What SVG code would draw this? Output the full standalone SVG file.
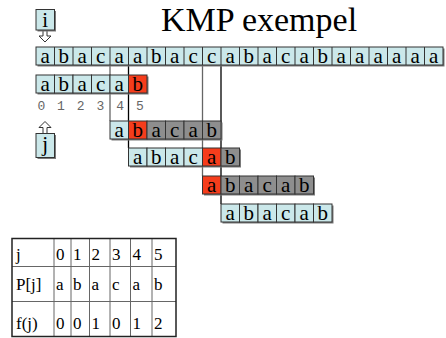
<svg xmlns="http://www.w3.org/2000/svg" width="446" height="338" viewBox="0 0 446 338">
<style>
.c{stroke:#333;stroke-width:1}
.b{fill:#cbe8ea}.r{fill:#f53d1c}.g{fill:#8e8e8e}
.sh{fill:#7a7a7a}
.t{font-family:"Liberation Serif","Times New Roman",serif;font-size:21px;fill:#000;text-anchor:middle}
.idx{font-family:"Liberation Mono","Courier New",monospace;font-size:13px;fill:#666;text-anchor:middle}
.tb{font-family:"Liberation Serif","Times New Roman",serif;font-size:17px;fill:#000}
.arr{fill:#fff;stroke:#333;stroke-width:1}
</style>
<rect width="446" height="338" fill="#fff"/>
<text x="161" y="31" font-family="'Liberation Serif','Times New Roman',serif" font-size="34">KMP exempel</text>

<g id="connectors">
<line x1="110" y1="65" x2="110" y2="121" stroke="#666" stroke-width="1.3"/>
<line x1="128.5" y1="65" x2="128.5" y2="148" stroke="#000" stroke-width="1.3"/>
<line x1="202.5" y1="65" x2="202.5" y2="176" stroke="#666" stroke-width="1.3"/>
<line x1="221" y1="65" x2="221" y2="204" stroke="#000" stroke-width="1.3"/>
<path class="arr" d="M43,30 v6 h-4 l6,6 l6,-6 h-4 v-6 z"/>
<path class="arr" d="M43,133.5 v-6 h-4 l6,-6 l6,6 h-4 v6 z"/>
</g>

<g id="i-label">
<rect class="sh" x="37.5" y="11" width="18.5" height="20.5"/>
<rect class="c b" x="36" y="9.5" width="18.5" height="20.5"/>
<text class="t" x="45.25" y="27">i</text>
</g>

<g id="j-label">
<rect class="sh" x="37.5" y="135" width="18.5" height="24"/>
<rect class="c b" x="36" y="133.5" width="18.5" height="24"/>
<text class="t" x="45.25" y="151">j</text>
</g>

<g id="text-row">
<rect class="sh" x="37.5" y="48.5" width="407" height="18"/>
<rect class="c b" x="36" y="47" width="407" height="18"/>
<path d="M54.5,47v18M73,47v18M91.5,47v18M110,47v18M128.5,47v18M147,47v18M165.5,47v18M184,47v18M202.5,47v18M221,47v18M239.5,47v18M258,47v18M276.5,47v18M295,47v18M313.5,47v18M332,47v18M350.5,47v18M369,47v18M387.5,47v18M406,47v18M424.5,47v18" stroke="#333" stroke-width="1"/>
<text class="t" y="62.5" x="45.25 63.75 82.25 100.75 119.25 137.75 156.25 174.75 193.25 211.75 230.25 248.75 267.25 285.75 304.25 322.75 341.25 359.75 378.25 396.75 415.25 433.75">abacaabaccabacabaaaaaa</text>
</g>

<g id="pattern-row">
<rect class="sh" x="37.5" y="76.5" width="111" height="18"/>
<rect class="c b" x="36" y="75" width="18.5" height="18"/>
<rect class="c b" x="54.5" y="75" width="18.5" height="18"/>
<rect class="c b" x="73" y="75" width="18.5" height="18"/>
<rect class="c b" x="91.5" y="75" width="18.5" height="18"/>
<rect class="c b" x="110" y="75" width="18.5" height="18"/>
<rect class="c r" x="128.5" y="75" width="18.5" height="18"/>
<text class="t" y="90.5" x="45.25 63.75 82.25 100.75 119.25 137.75">abacab</text>
</g>

<g id="indices">
<text class="idx" y="110" x="41.3 61 80.7 100.4 120.1 139.8">012345</text>
</g>

<g id="shift-1">
<rect class="sh" x="111.5" y="122.5" width="111" height="18"/>
<rect class="c b" x="110" y="121" width="18.5" height="18"/>
<rect class="c r" x="128.5" y="121" width="18.5" height="18"/>
<rect class="c g" x="147" y="121" width="18.5" height="18"/>
<rect class="c g" x="165.5" y="121" width="18.5" height="18"/>
<rect class="c g" x="184" y="121" width="18.5" height="18"/>
<rect class="c g" x="202.5" y="121" width="18.5" height="18"/>
<text class="t" y="136.5" x="119.25 137.75 156.25 174.75 193.25 211.75">abacab</text>
</g>

<g id="shift-2">
<rect class="sh" x="130" y="149.5" width="111" height="18"/>
<rect class="c b" x="128.5" y="148" width="18.5" height="18"/>
<rect class="c b" x="147" y="148" width="18.5" height="18"/>
<rect class="c b" x="165.5" y="148" width="18.5" height="18"/>
<rect class="c b" x="184" y="148" width="18.5" height="18"/>
<rect class="c r" x="202.5" y="148" width="18.5" height="18"/>
<rect class="c g" x="221" y="148" width="18.5" height="18"/>
<text class="t" y="163.5" x="137.75 156.25 174.75 193.25 211.75 230.25">abacab</text>
</g>

<g id="shift-3">
<rect class="sh" x="204" y="177.5" width="111" height="18"/>
<rect class="c r" x="202.5" y="176" width="18.5" height="18"/>
<rect class="c g" x="221" y="176" width="18.5" height="18"/>
<rect class="c g" x="239.5" y="176" width="18.5" height="18"/>
<rect class="c g" x="258" y="176" width="18.5" height="18"/>
<rect class="c g" x="276.5" y="176" width="18.5" height="18"/>
<rect class="c g" x="295" y="176" width="18.5" height="18"/>
<text class="t" y="191.5" x="211.75 230.25 248.75 267.25 285.75 304.25">abacab</text>
</g>

<g id="shift-4">
<rect class="sh" x="222.5" y="205.5" width="111" height="18"/>
<rect class="c b" x="221" y="204" width="18.5" height="18"/>
<rect class="c b" x="239.5" y="204" width="18.5" height="18"/>
<rect class="c b" x="258" y="204" width="18.5" height="18"/>
<rect class="c b" x="276.5" y="204" width="18.5" height="18"/>
<rect class="c b" x="295" y="204" width="18.5" height="18"/>
<rect class="c b" x="313.5" y="204" width="18.5" height="18"/>
<text class="t" y="219.5" x="230.25 248.75 267.25 285.75 304.25 322.75">abacab</text>
</g>

<g id="table">
<path d="M54,238.5V336.5M71,238.5V336.5M89.5,238.5V336.5M110,238.5V336.5M130.5,238.5V336.5M152,238.5V336.5M12,266.5H176M12,301.5H176" stroke="#666" stroke-width="1"/>
<rect x="12" y="238.5" width="164" height="98" fill="none" stroke="#222" stroke-width="1.5"/>
<text class="tb" x="16" y="260">j</text>
<text class="tb" y="260" x="56">0</text><text class="tb" y="260" x="73">1</text><text class="tb" y="260" x="91.5">2</text><text class="tb" y="260" x="112">3</text><text class="tb" y="260" x="132.5">4</text><text class="tb" y="260" x="154">5</text>
<text class="tb" x="16" y="290">P[j]</text>
<text class="tb" y="290" x="56">a</text><text class="tb" y="290" x="73">b</text><text class="tb" y="290" x="91.5">a</text><text class="tb" y="290" x="112">c</text><text class="tb" y="290" x="132.5">a</text><text class="tb" y="290" x="154">b</text>
<text class="tb" x="16" y="329">f(j)</text>
<text class="tb" y="329" x="56">0</text><text class="tb" y="329" x="73">0</text><text class="tb" y="329" x="91.5">1</text><text class="tb" y="329" x="112">0</text><text class="tb" y="329" x="132.5">1</text><text class="tb" y="329" x="154">2</text>
</g>
</svg>
